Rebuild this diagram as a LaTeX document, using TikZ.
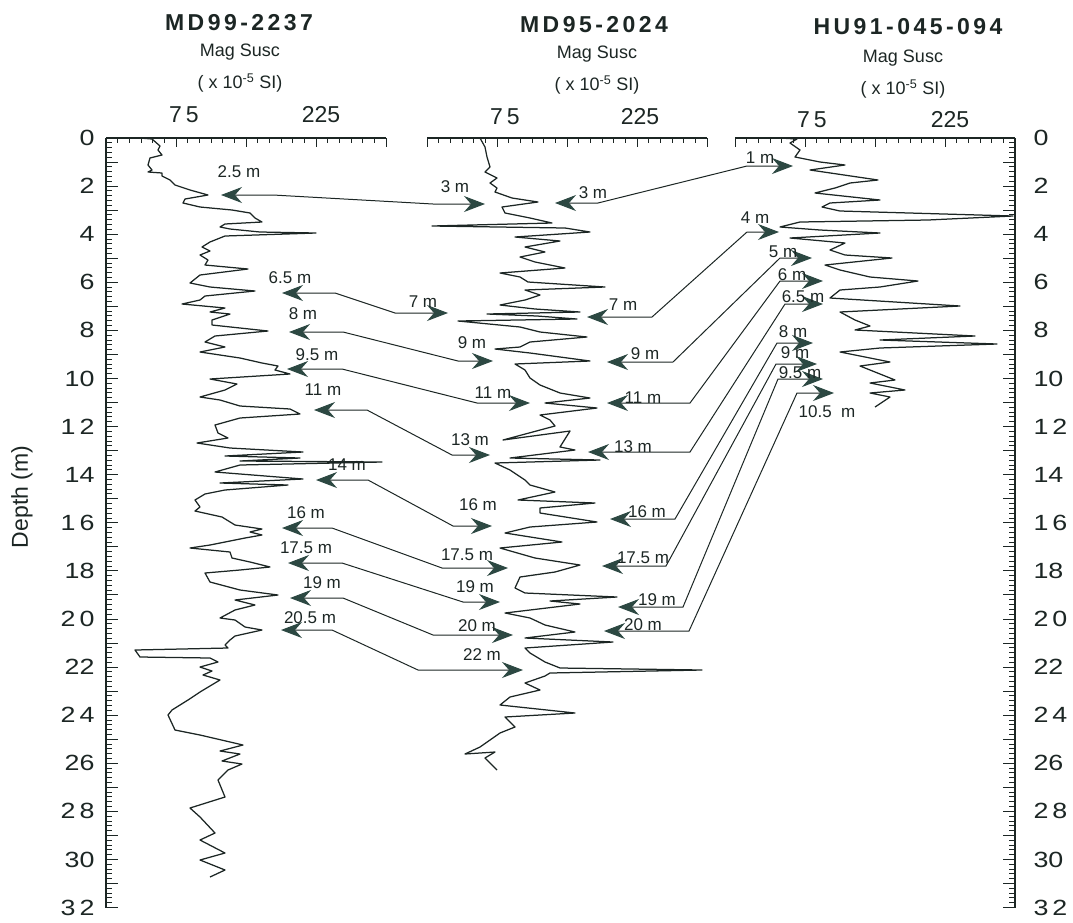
\documentclass[tikz,border=0pt]{standalone}
\usepackage{fontspec}
\setmainfont{Liberation Sans}
\newfontfamily\titlefont[LetterSpace=15]{Liberation Sans}
\newfontfamily\depthfont[FakeStretch=1.22]{Liberation Sans}
\usetikzlibrary{arrows.meta}
\definecolor{ink}{HTML}{1C2624}
\definecolor{tipc}{HTML}{2C4842}
\newcommand{\dgap}{\kern4pt}

\begin{document}
\begin{tikzpicture}[x=1pt, y=-1pt, >={Stealth[length=21pt,width=16pt,inset=7pt,color=tipc]},
  axis/.style={draw=ink, line width=1.2pt},
  tick/.style={draw=ink, line width=1pt},
  trace/.style={draw=ink, line width=1.25pt, line join=round},
  tie/.style={<->, draw=ink, line width=1pt},
  ttl/.style={text=ink, font=\titlefont\bfseries\fontsize{23}{25}\selectfont},
  sub/.style={text=ink, font=\fontsize{18}{20}\selectfont},
  num/.style={text=ink, font=\fontsize{23}{25}\selectfont},
  dep/.style={text=ink, font=\depthfont\fontsize{22}{24}\selectfont},
  lab/.style={text=ink, inner sep=0pt, font=\fontsize{17}{19}\selectfont}]
  \useasboundingbox (0,0) rectangle (1073,922);

  % Headings
  \node[ttl] (ttlA) at (239,23) {MD99-2237};
  \node[ttl] (ttlB) at (594,25) {MD95-2024};
  \node[ttl] (ttlC) at (908,27) {HU91-045-094};
  \foreach \n/\x/\y in {A/240/52, B/597/54, C/903/58} {
    \node[sub] (mag\n) at (\x,\y) {Mag Susc};
    \node[sub] (unit\n) at (\x,\y+31) {( x 10\textsuperscript{-5} SI)};
  }
  \foreach \n/\x/\y/\t in {A1/184/115/7\dgap5, A2/321/115/225, B1/505/117/7\dgap5, B2/640/117/225,
                           C1/812/120/7\dgap5, C2/950/120/225}
    \node[num] (top\n) at (\x,\y) {\t};

  % Axes
  \foreach \xa in {106,427,735} {
    \draw[axis] (\xa,138) -- ++(280,0);
    \foreach \k in {0,...,24} {
      \pgfmathsetmacro{\tl}{mod(\k,6)==0 ? 9 : 5}
      \draw[tick] (\xa+\k*280/24,138) -- ++(0,\tl);
    }
  }
  \draw[axis] (106,138) -- (106,907.6);
  \draw[axis] (1015,138) -- (1015,907.6);
  \foreach \i in {0,...,160} {
    \pgfmathsetmacro{\tl}{mod(\i,5)==0 ? 12 : 6}
    \draw[tick] (106,138+\i*4.81) -- ++(\tl,0);
    \draw[tick] (1015,138+\i*4.81) -- ++(-\tl,0);
  }
  \foreach \d/\t in {0/0, 2/2, 4/4, 6/6, 8/8, 10/10, 12/1\dgap2, 14/14, 16/1\dgap6, 18/18,
                     20/2\dgap0, 22/22, 24/2\dgap4, 26/26, 28/2\dgap8, 30/30, 32/3\dgap2} {
    \node[dep, anchor=east] (dl\d) at (98,138+\d*24.05) {\t};
    \node[dep, anchor=west] (dr\d) at (1030,138+\d*24.05) {\t};
  }
  \node[num, rotate=90] (depth) at (22,497) {Depth (m)};

  % Curves
  \draw[trace] plot coordinates {(140,138) (152,139) (160,146) (158,150) (162,155) (150,158) (148,165)
    (152,170) (148,172) (162,173) (162,176) (170,180) (175,185) (190,190) (208,195) (185,199) (183,203)
    (200,207) (232,210) (250,213) (255,218) (262,222) (225,224) (220,227) (230,229) (260,232) (316,233)
    (225,236) (210,242) (202,247) (210,251) (200,255) (208,260) (205,265) (248,269) (200,275) (190,283)
    (210,287) (255,291) (205,296) (200,300) (182,304) (225,308) (210,312) (230,314) (212,320) (212,325)
    (268,331) (215,336) (205,342) (225,347) (200,352) (240,358) (262,363) (278,366) (275,370) (290,374)
    (210,379) (237,384) (225,390) (200,397) (220,400) (240,406) (290,409) (300,414) (240,418) (215,425)
    (218,433) (228,438) (197,443) (230,448) (303,452) (225,456) (300,458) (240,461) (382,462) (240,465)
    (215,472) (303,479) (220,483) (288,485) (225,490) (205,494) (195,500) (200,507) (195,511) (222,517)
    (235,525) (262,529) (250,532) (262,535) (245,538) (210,545) (190,548) (230,552) (232,558) (250,562)
    (270,567) (240,570) (205,573) (210,582) (240,590) (278,595) (235,600) (255,605) (235,610) (220,618)
    (235,620) (245,627) (262,630) (235,636) (230,640) (225,645) (228,648) (135,650) (140,657) (210,658)
    (218,662) (200,667) (212,671) (203,675) (220,680) (200,692) (188,700) (172,710) (168,715) (175,730)
    (200,735) (243,745) (220,751) (240,754) (222,761) (242,764) (228,770) (218,780) (225,797) (190,808)
    (200,817) (215,833) (200,840) (225,853) (200,860) (225,870) (210,877)};
  \draw[trace] plot coordinates {(480,138) (485,147) (487,157) (490,167) (485,172) (497,178) (490,183)
    (497,188) (495,192) (512,198) (538,202) (502,207) (505,213) (530,218) (552,223) (432,226) (565,228)
    (590,232) (515,237) (560,241) (525,247) (545,252) (520,257) (535,262) (565,268) (500,273) (520,277)
    (528,282) (605,287) (525,290) (540,295) (525,300) (500,305) (535,309) (580,312) (487,314) (537,316)
    (577,319) (458,321) (520,327) (540,332) (587,337) (530,342) (520,347) (495,349) (530,353) (590,361)
    (515,364) (525,370) (530,378) (540,385) (560,393) (590,398) (545,403) (597,408) (540,415) (550,420)
    (555,426) (503,440) (570,431) (560,447) (575,450) (510,458) (600,460) (495,463) (510,470) (525,480)
    (530,485) (555,492) (518,500) (595,503) (540,508) (540,513) (597,522) (530,527) (505,533) (562,542)
    (500,548) (535,558) (580,565) (555,572) (520,577) (515,588) (525,593) (617,597) (550,601) (580,604)
    (505,613) (530,618) (545,625) (575,632) (525,638) (613,642) (525,648) (530,653) (545,662) (560,668)
    (702,670) (550,673) (545,676) (525,683) (540,690) (510,697) (500,705) (575,713) (505,717) (515,727)
    (500,733) (480,747) (465,754) (495,752) (485,758) (497,770)};
  \draw[trace] plot coordinates {(780,138) (797,139) (790,143) (800,150) (795,157) (820,162) (845,165)
    (810,170) (878,180) (850,183) (835,188) (815,193) (880,200) (830,203) (822,207) (840,211) (1013,216)
    (928,220) (800,222) (780,227) (820,230) (880,233) (790,238) (845,243) (830,250) (845,255) (892,258)
    (825,265) (840,270) (870,277) (918,281) (880,287) (840,290) (830,298) (960,306) (840,312) (855,320)
    (870,326) (855,330) (975,336) (880,340) (997,344) (880,348) (840,352) (890,362) (860,366) (895,380)
    (870,383) (905,390) (870,393) (890,397) (875,407)};

  % Tie points
  \foreach \n/\ax/\ay/\ae/\bs/\bx/\by in {
      1/221/195/273/433/485/204, 2/282/293/335/395/448/313, 3/289/332/343/458/493/361,
      4/287/369/342/477/530/403, 5/314/410/367/452/490/455, 6/316/480/368/453/492/526,
      7/282/528/332/442/508/568, 8/288/563/342/463/500/602, 9/290/598/343/433/513/635,
      10/281/630/332/418/523/670,
      11/555/203/598/747/793/166, 12/587/317/652/747/779/232, 13/607/362/673/780/812/258,
      14/607/403/690/780/823/281, 15/588/452/690/785/823/304, 16/610/519/675/777/813/343,
      17/602/566/666/776/817/364, 18/618/607/683/778/823/379, 19/604/631/689/797/834/393} {
    \coordinate (p\n) at (\ax,\ay);
    \coordinate (q\n) at (\bx,\by);
    \draw[tie] (p\n) -- (\ae,\ay) -- (\bs,\by) -- (q\n);
  }

  % Depth labels on the ties
  \foreach \n/\x/\y/\t in {
      a1/239/172/2.5 m, a2/290/278/6.5 m, a3/303/314/8 m, a4/317/355/9.5 m, a5/323/390/11 m,
      a6/347/465/14 m, a7/306/513/16 m, a8/306/548/17.5 m, a9/322/583/19 m, a10/310/618/20.5 m,
      b1/455/187/3 m, b2/423/302/7 m, b3/472/343/9 m, b4/493/393/11 m, b5/470/440/13 m,
      b6/478/505/16 m, b7/467/555/17.5 m, b8/475/587/19 m, b9/477/626/20 m, b10/482/655/22 m,
      c1/593/193/3 m, c2/623/305/7 m, c3/645/354/9 m, c4/643/398/11 m, c5/633/447/13 m,
      c6/647/512/16 m, c7/643/558/17.5 m, c8/657/600/19 m, c9/643/625/20 m,
      d1/760/158/1 m, d2/755/218/4 m, d3/783/252/5 m, d4/792/275/6 m, d5/803/297/6.5 m,
      d6/793/332/8 m, d7/795/353/9 m, d8/800/373/9.5 m, d9/827/412/10.5\ \ m}
    \node[lab] (m\n) at (\x,\y) {\t};
\end{tikzpicture}
\end{document}
